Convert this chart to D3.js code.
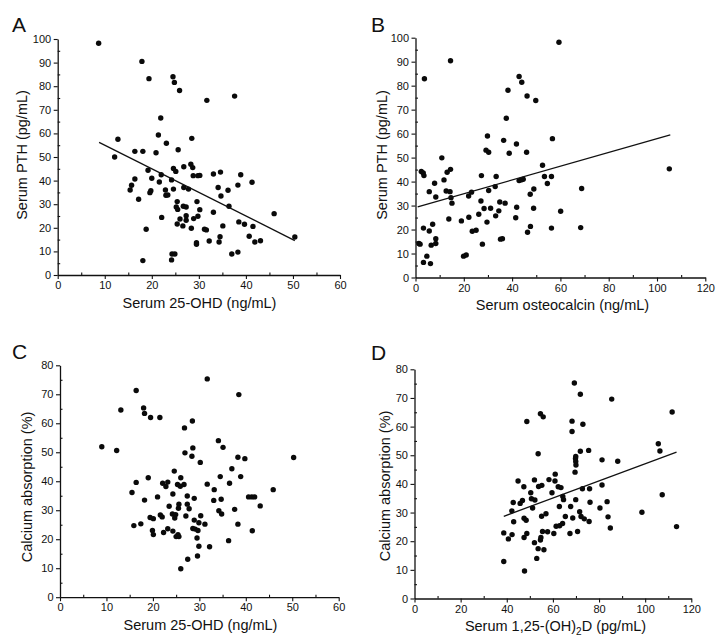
<!DOCTYPE html>
<html><head><meta charset="utf-8">
<script src="https://cdn.jsdelivr.net/npm/d3@7"></script>
<style>
body{margin:0;background:#fff}
svg{display:block}
text{font-family:"Liberation Sans",Arial,Helvetica,sans-serif;fill:#111}
</style>
</head><body>
<svg id="chart" width="725" height="644"></svg>
<script>
// ---- Panel A: Serum 25-OHD vs Serum PTH ----
const aX=[8.7,17.9,19.4,24.5,24.8,25.9,31.7,37.6,21.9,21.4,12.8,28.5,23.1,25.6,12.1,16.4,18.1,20.9,19.2,22.0,24.6,25.1,26.8,28.3,28.7,28.8,29.8,30.2,33.1,34.6,38.9,16.4,20.0,21.6,24.2,41.3,15.7,15.4,19.8,19.6,22.9,24.6,26.8,27.8,34.1,36.2,38.3,23.0,23.4,34.7,17.2,25.4,29.6,25.2,25.5,26.7,27.3,30.2,33.1,36.4,22.1,26.0,27.3,27.3,28.9,29.8,25.4,26.6,28.4,18.8,31.2,31.6,35.1,38.5,39.7,41.5,46.0,34.5,40.7,50.4,29.5,29.5,32.2,34.3,41.9,43.1,24.3,24.9,37.0,38.3,18.1,24.2];
const aY=[98.2,90.5,83.2,84.0,81.6,78.2,74.0,75.8,66.5,59.3,57.5,57.9,55.8,53.1,50.0,52.4,52.4,51.8,44.4,42.5,45.1,43.9,45.9,46.9,45.5,42.1,42.1,42.2,42.8,43.6,42.5,40.7,41.0,39.4,40.3,39.3,38.0,36.0,35.7,34.9,36.0,36.4,37.1,36.4,37.1,35.9,38.1,33.8,33.9,33.5,32.1,31.1,31.1,28.8,27.8,29.1,28.8,27.7,26.6,29.1,24.4,23.7,25.1,23.2,23.9,24.9,21.6,20.8,19.8,19.4,19.4,19.1,20.8,22.5,21.5,20.6,26.0,16.2,16.4,16.1,13.7,13.0,14.4,14.0,14.0,14.5,8.9,8.9,8.9,9.7,6.1,6.4];
const aFitX=[8.8,50.4], aFitY=[56.2,14.6];

// ---- Panel B: Serum osteocalcin vs Serum PTH ----
const bX=[59.4,14.5,3.7,42.9,44.0,38.3,46.2,49.8,37.6,29.8,36.5,56.7,41.8,29.2,30.3,38.8,46.0,10.9,2.4,3.2,3.5,11.8,7.9,12.7,14.3,14.7,15.1,13.1,14.5,5.7,8.4,13.8,3.3,5.7,7.1,6.5,8.4,8.4,1.4,1.9,4.7,3.3,6.2,19.0,19.9,21.0,22.0,23.2,22.1,23.5,25.1,27.3,27.1,28.4,26.2,27.7,29.6,30.3,31.1,33.4,33.0,33.2,34.9,34.5,35.2,37.1,41.9,41.5,42.9,43.7,44.6,46.4,47.6,47.5,49.0,48.9,52.6,53.4,54.6,56.3,56.3,60.1,68.4,68.8,105.1,36.0];
const bY=[98.1,90.4,82.9,83.8,81.4,78.1,75.7,73.8,66.4,59.0,57.2,57.9,55.7,53.1,52.2,51.8,52.2,49.9,44.2,43.6,42.5,40.7,39.3,36.1,35.8,33.3,31.0,43.9,45.1,35.8,33.6,24.4,20.6,19.4,22.2,13.5,14.2,16.2,14.2,13.9,8.9,6.3,5.8,23.6,8.9,9.4,34.0,35.6,25.1,19.3,19.7,42.5,31.9,28.8,26.4,13.9,23.1,36.3,28.9,42.1,37.9,25.7,31.5,27.8,16.0,31.0,29.3,24.9,40.4,40.7,41.0,18.9,21.3,34.7,36.9,28.9,46.8,42.1,39.2,42.1,20.6,27.6,20.8,37.1,45.3,16.2];
const bFitX=[0.9,105.5], bFitY=[29.4,59.5];

// ---- Panel C: Serum 25-OHD vs Calcium absorption ----
const cX=[9.0,12.2,13.1,16.4,18.0,18.2,19.5,21.5,31.7,38.5,28.5,26.8,34.1,35.1,28.6,26.9,28.4,30.2,38.3,39.8,50.3,37.0,24.6,34.5,38.9,19.0,26.0,16.4,22.1,23.2,22.8,25.3,25.9,26.7,31.7,36.5,15.5,45.9,33.2,21.0,24.3,27.4,28.9,33.1,34.7,40.6,41.3,41.9,18.2,23.5,25.6,27.4,25.5,27.8,34.2,34.8,37.6,43.1,21.6,22.0,19.4,20.1,24.2,24.9,24.7,27.1,30.3,28.9,29.9,31.2,38.3,15.9,17.4,19.9,20.1,22.3,23.2,24.3,28.6,29.1,29.7,25.0,25.4,25.6,29.5,41.4,29.9,32.2,36.3,29.6,27.5,26.0];
const cY=[51.9,50.6,64.6,71.3,65.3,63.4,62.0,62.0,75.3,69.9,60.8,58.4,54.0,51.7,51.5,49.8,48.6,46.5,48.3,47.8,48.2,44.3,43.5,41.6,41.6,41.2,41.2,39.6,39.3,39.7,38.2,38.9,38.3,38.9,39.0,39.3,36.1,37.1,37.1,34.6,35.6,34.9,34.1,33.4,33.8,34.6,34.6,34.6,33.5,31.4,32.1,32.1,30.7,30.5,29.8,28.7,30.3,31.5,28.4,27.7,27.5,27.1,28.7,28.5,27.3,28.0,28.1,26.6,25.7,25.2,25.2,24.7,25.3,23.0,21.6,22.3,23.6,22.8,23.7,23.5,23.0,20.9,21.6,20.9,20.4,22.9,17.6,17.4,19.5,14.2,13.1,9.8];

// ---- Panel D: Serum 1,25-(OH)2D vs Calcium absorption ----
const dX=[38.7,38.7,40.7,42.3,42.2,42.8,43.0,44.9,45.8,46.8,47.4,47.5,48.4,47.5,48.7,47.7,48.7,50.4,50.7,51.2,52.0,52.2,52.0,53.0,53.6,53.6,53.8,54.6,55.8,55.2,55.1,54.6,54.8,55.5,56.1,57.0,57.7,58.3,59.6,60.4,60.9,61.0,61.4,62.3,62.8,63.5,62.9,64.2,64.3,64.6,65.4,67.4,67.7,68.3,68.3,68.6,69.3,69.6,69.8,69.9,70.0,69.9,69.9,70.7,71.6,71.9,71.9,72.2,73.0,72.8,73.6,75.5,75.7,75.9,76.1,80.4,81.3,81.3,83.5,83.9,84.9,85.5,88.1,98.6,105.7,106.4,107.4,111.7,113.6];
const dY=[12.9,22.9,20.8,22.3,30.6,33.5,26.8,41.0,33.2,34.2,39.0,28.0,27.3,21.3,22.7,9.6,61.8,36.9,34.8,31.6,41.4,34.4,19.5,14.0,17.4,50.5,39.1,64.5,63.4,39.5,28.7,20.4,21.3,23.4,17.0,29.6,23.3,41.5,36.9,22.7,41.0,43.4,25.2,39.0,32.1,38.7,25.4,26.2,35.6,34.5,28.6,22.7,32.1,61.9,58.3,28.1,75.2,44.1,48.9,47.8,46.6,49.6,34.5,23.4,30.3,71.3,51.4,28.6,60.8,38.3,27.8,51.7,26.9,38.3,33.6,31.6,48.4,39.6,33.8,28.5,24.6,69.6,47.9,30.1,54.0,51.5,36.2,65.1,25.1];
const dFitX=[38.7,113.6], dFitY=[28.7,51.1];

// Axis tick values
const xTicks60=[0,10,20,30,40,50,60], xMinor60=[5,15,25,35,45,55];
const xTicks120=[0,20,40,60,80,100,120], xMinor120=[10,30,50,70,90,110];
const yTicks100=[0,10,20,30,40,50,60,70,80,90,100], yMinor100=[5,15,25,35,45,55,65,75,85,95];
const yTicks80=[0,10,20,30,40,50,60,70,80], yMinor80=[5,15,25,35,45,55,65,75];

const svg=d3.select("#chart");

function panel(cfg){
  const g=svg.append("g");
  const x=d3.scaleLinear().domain(cfg.xDomain).range([cfg.left,cfg.right]);
  const y=d3.scaleLinear().domain(cfg.yDomain).range([cfg.bottom,cfg.top]);

  // minor ticks (inward)
  g.append("g").attr("transform",`translate(0,${cfg.bottom})`)
    .call(d3.axisBottom(x).tickValues(cfg.xMinor).tickSize(-2.5).tickSizeOuter(0).tickFormat(""))
    .call(s=>s.select(".domain").remove());
  g.append("g").attr("transform",`translate(${cfg.left},0)`)
    .call(d3.axisLeft(y).tickValues(cfg.yMinor).tickSize(-2.5).tickSizeOuter(0).tickFormat(""))
    .call(s=>s.select(".domain").remove());

  const xa=g.append("g").attr("transform",`translate(0,${cfg.bottom})`)
    .call(d3.axisBottom(x).tickValues(cfg.xTicks).tickSize(4).tickSizeOuter(0).tickPadding(2.5).tickFormat(d3.format("d")));
  const ya=g.append("g").attr("transform",`translate(${cfg.left},0)`)
    .call(d3.axisLeft(y).tickValues(cfg.yTicks).tickSize(4).tickSizeOuter(0).tickPadding(2.5).tickFormat(d3.format("d")));
  [xa,ya].forEach(a=>{
    a.selectAll("text").style("font-size","11px").attr("fill","#222");
    a.select(".domain").attr("stroke","#111").attr("stroke-width",1.3);
    a.selectAll(".tick line").attr("stroke","#111").attr("stroke-width",1.1);
  });
  g.selectAll(".tick line").attr("stroke","#111").attr("stroke-width",1.1);

  // points
  g.append("g").selectAll("circle").data(d3.zip(cfg.xs,cfg.ys)).join("circle")
    .attr("cx",d=>x(d[0])).attr("cy",d=>y(d[1])).attr("r",2.7).attr("fill","#0a0a0a");

  // regression line
  if(cfg.fitX){
    g.append("path").datum(d3.zip(cfg.fitX,cfg.fitY))
      .attr("d",d3.line().x(d=>x(d[0])).y(d=>y(d[1])))
      .attr("stroke","#111").attr("stroke-width",1.3).attr("fill","none");
  }

  // axis titles
  const xt=g.append("text").attr("x",cfg.xTitlePos[0]).attr("y",cfg.xTitlePos[1])
    .attr("text-anchor","middle").style("font-size","14.5px");
  cfg.xTitle.forEach(p=>{
    const t=xt.append("tspan").text(p.t);
    if(p.sub){t.attr("dy",3.5).style("font-size","10px");}
    else if(p.after){t.attr("dy",-3.5);}
  });
  g.append("text").attr("transform",`translate(${cfg.yTitlePos[0]},${cfg.yTitlePos[1]}) rotate(-90)`)
    .attr("text-anchor","middle").style("font-size","14.5px").text(cfg.yTitle);

  // panel letter
  g.append("text").attr("x",cfg.letterPos[0]).attr("y",cfg.letterPos[1])
    .style("font-size","21px").text(cfg.letter);
}

panel({letter:"A",letterPos:[12,32],xs:aX,ys:aY,fitX:aFitX,fitY:aFitY,
  xDomain:[0,60],yDomain:[0,100],left:57.7,right:340,top:39,bottom:275,
  xTicks:xTicks60,xMinor:xMinor60,yTicks:yTicks100,yMinor:yMinor100,
  xTitle:[{t:"Serum 25-OHD (ng/mL)"}],xTitlePos:[199.5,308],
  yTitle:"Serum PTH (pg/mL)",yTitlePos:[27,155]});

panel({letter:"B",letterPos:[371,32],xs:bX,ys:bY,fitX:bFitX,fitY:bFitY,
  xDomain:[0,120],yDomain:[0,100],left:415.5,right:705.3,top:37.7,bottom:277.5,
  xTicks:xTicks120,xMinor:xMinor120,yTicks:yTicks100,yMinor:yMinor100,
  xTitle:[{t:"Serum osteocalcin (ng/mL)"}],xTitlePos:[562.5,310],
  yTitle:"Serum PTH (pg/mL)",yTitlePos:[387,155]});

panel({letter:"C",letterPos:[12,359],xs:cX,ys:cY,
  xDomain:[0,60],yDomain:[0,80],left:60,right:338.7,top:365.3,bottom:597.2,
  xTicks:xTicks60,xMinor:xMinor60,yTicks:yTicks80,yMinor:yMinor80,
  xTitle:[{t:"Serum 25-OHD (ng/mL)"}],xTitlePos:[200.5,630],
  yTitle:"Calcium absorption (%)",yTitlePos:[32,487]});

panel({letter:"D",letterPos:[371,360],xs:dX,ys:dY,fitX:dFitX,fitY:dFitY,
  xDomain:[0,120],yDomain:[0,80],left:414.5,right:691.3,top:369.3,bottom:598.5,
  xTicks:xTicks120,xMinor:xMinor120,yTicks:yTicks80,yMinor:yMinor80,
  xTitle:[{t:"Serum 1,25-(OH)"},{t:"2",sub:true},{t:"D (pg/mL)",after:true}],xTitlePos:[555.5,631],
  yTitle:"Calcium absorption (%)",yTitlePos:[390,486]});
</script>
</body></html>
